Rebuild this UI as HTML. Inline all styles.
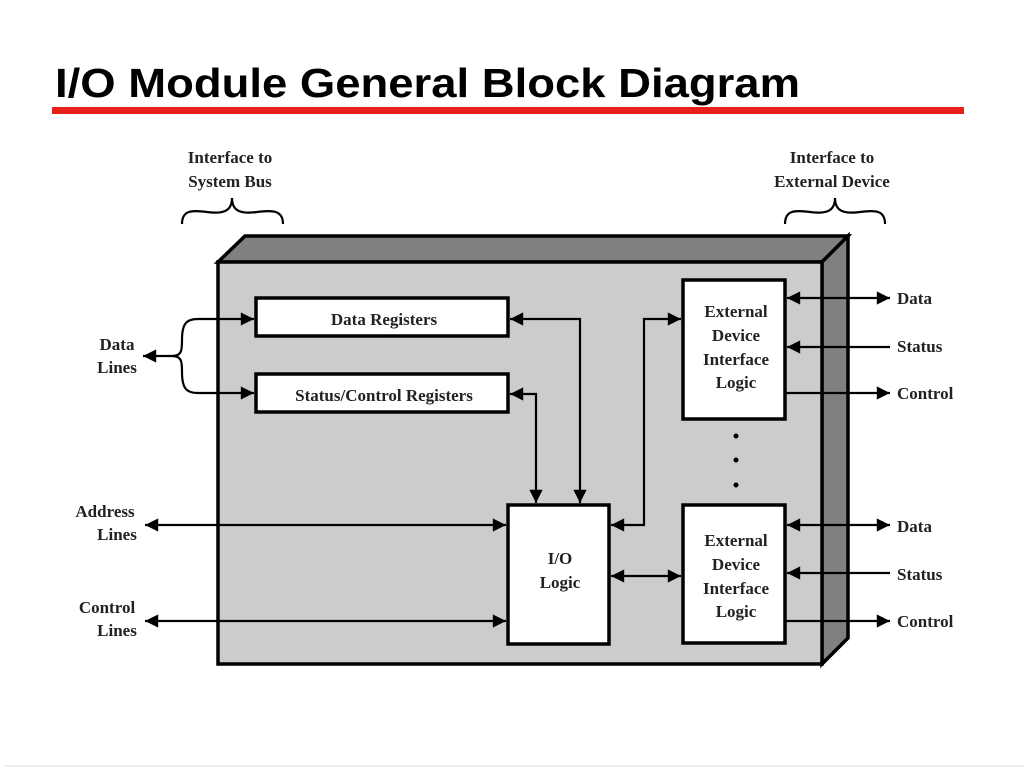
<!DOCTYPE html>
<html><head><meta charset="utf-8"><style>
html,body{margin:0;padding:0;background:#fff;width:1024px;height:768px;overflow:hidden}
</style></head><body>
<svg width="1024" height="768" viewBox="0 0 1024 768" xmlns="http://www.w3.org/2000/svg">
<defs>
<marker id="a" viewBox="0 0 10 10" refX="10" refY="5" markerWidth="6.5" markerHeight="6" orient="auto-start-reverse" markerUnits="strokeWidth">
<path d="M0,0 L10,5 L0,10 z" fill="#000"/></marker>
</defs>
<text x="55" y="97" font-family="Liberation Sans, sans-serif" font-weight="bold" font-size="41" fill="#000" textLength="745" lengthAdjust="spacingAndGlyphs">I/O Module General Block Diagram</text>
<rect x="52" y="107" width="912" height="7" fill="#e8201c"/>
<line x1="4" y1="766" x2="1024" y2="766" stroke="#eee" stroke-width="2"/>
<g font-family="Liberation Serif, serif" font-weight="bold" font-size="17" fill="#222" text-anchor="middle">
<text x="230" y="163">Interface to</text><text x="230" y="187">System Bus</text>
<text x="832" y="163">Interface to</text><text x="832" y="187">External Device</text>
<text x="117" y="350">Data</text><text x="117" y="373">Lines</text>
<text x="105" y="517">Address</text><text x="117" y="540">Lines</text>
<text x="107" y="613">Control</text><text x="117" y="636">Lines</text>
</g>
<g fill="none" stroke="#000" stroke-width="2.2">
<path d="M182,224 C182,210 192,210 207,212 C222,214 232,212 232,198 C232,212 242,214 257,212 C272,210 283,210 283,224"/>
<path d="M785,224 C785,210 795,210 810,212 C825,214 835,212 835,198 C835,212 845,214 860,212 C875,210 885,210 885,224"/>
</g>
<polygon points="218,262 245,236 848,236 822,262" fill="#808080" stroke="#000" stroke-width="3.5"/>
<polygon points="822,262 848,236 848,638 822,664" fill="#808080" stroke="#000" stroke-width="3.5"/>
<rect x="218" y="262" width="604" height="402" fill="#cccccc" stroke="#000" stroke-width="3.5"/>
<g fill="#fff" stroke="#000" stroke-width="3.5">
<rect x="256" y="298" width="252" height="38"/>
<rect x="256" y="374" width="252" height="38"/>
<rect x="508" y="505" width="101" height="139"/>
<rect x="683" y="280" width="102" height="139"/>
<rect x="683" y="505" width="102" height="138"/>
</g>
<g font-family="Liberation Serif, serif" font-weight="bold" font-size="17" fill="#222" text-anchor="middle">
<text x="384" y="325">Data Registers</text>
<text x="384" y="401">Status/Control Registers</text>
<text x="560" y="564">I/O</text><text x="560" y="588">Logic</text>
<text x="736" y="317">External</text><text x="736" y="341">Device</text><text x="736" y="365">Interface</text><text x="736" y="388">Logic</text>
<text x="736" y="546">External</text><text x="736" y="570">Device</text><text x="736" y="594">Interface</text><text x="736" y="617">Logic</text>
</g>
<g font-family="Liberation Serif, serif" font-weight="bold" font-size="17" fill="#222">
<text x="897" y="304">Data</text><text x="897" y="352">Status</text><text x="897" y="399">Control</text>
<text x="897" y="532">Data</text><text x="897" y="580">Status</text><text x="897" y="627">Control</text>
</g>
<g fill="none" stroke="#000" stroke-width="2.2">
<path d="M143,356 L172,356 C182,356 182,350 182,340 C182,324 186,319 198,319 L254,319" marker-start="url(#a)" marker-end="url(#a)"/>
<path d="M172,356 C182,356 182,362 182,372 C182,388 186,393 198,393 L254,393" marker-end="url(#a)"/>
<path d="M510,319 L580,319 L580,503" marker-start="url(#a)" marker-end="url(#a)"/>
<path d="M510,394 L536,394 L536,503" marker-start="url(#a)" marker-end="url(#a)"/>
<path d="M145,525 L506,525" marker-start="url(#a)" marker-end="url(#a)"/>
<path d="M145,621 L506,621" marker-start="url(#a)" marker-end="url(#a)"/>
<path d="M611,525 L644,525 L644,319 L681,319" marker-start="url(#a)" marker-end="url(#a)"/>
<path d="M611,576 L681,576" marker-start="url(#a)" marker-end="url(#a)"/>
<path d="M787,298 L890,298" marker-start="url(#a)" marker-end="url(#a)"/>
<path d="M890,347 L787,347" marker-end="url(#a)"/>
<path d="M785,393 L890,393" marker-end="url(#a)"/>
<path d="M787,525 L890,525" marker-start="url(#a)" marker-end="url(#a)"/>
<path d="M890,573 L787,573" marker-end="url(#a)"/>
<path d="M785,621 L890,621" marker-end="url(#a)"/>
</g>
<g fill="#000"><circle cx="736" cy="436" r="2.5"/><circle cx="736" cy="460" r="2.5"/><circle cx="736" cy="485" r="2.5"/></g>
</svg>
</body></html>
